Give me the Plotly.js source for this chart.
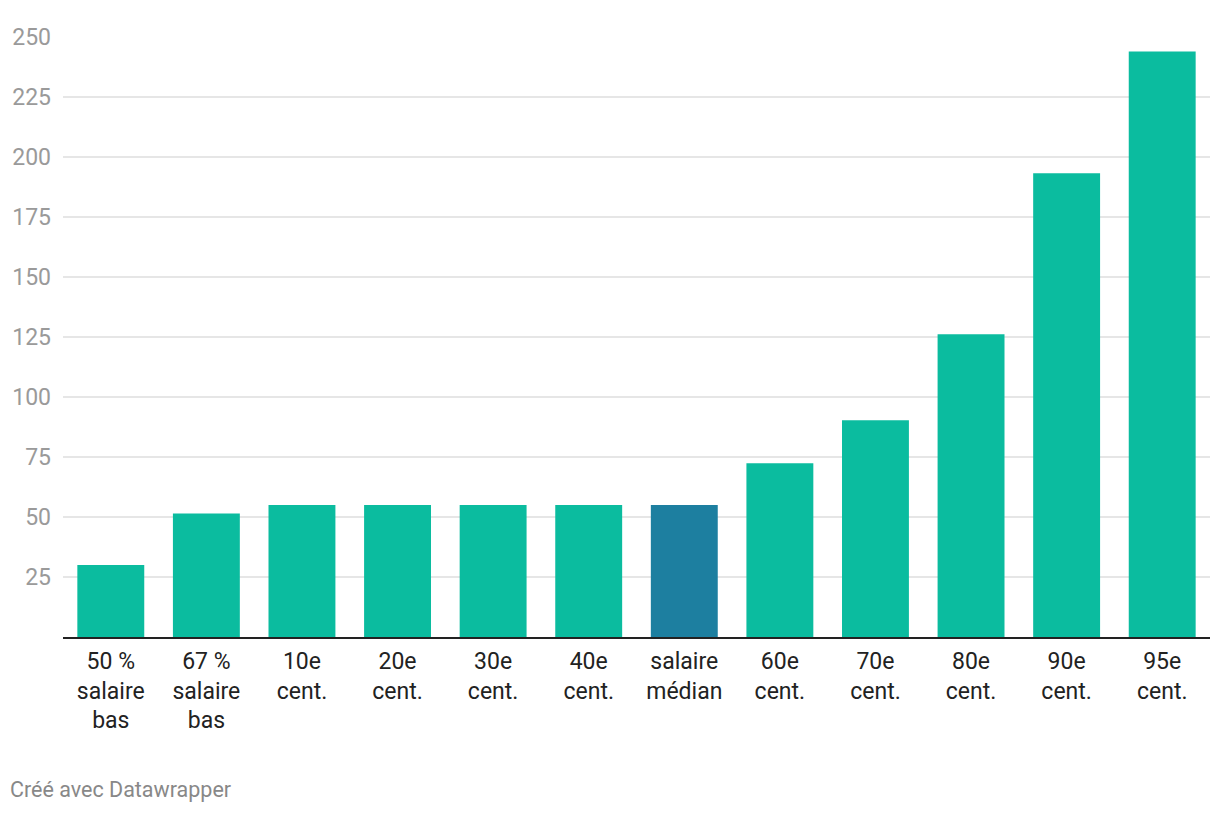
<!DOCTYPE html>
<html>
<head>
<meta charset="utf-8">
<script src="https://cdn.plot.ly/plotly-3.0.1.min.js"></script>
<style>
  html, body { margin: 0; padding: 0; background: #fff; }
  #chart { width: 1220px; height: 814px; }
</style>
</head>
<body>
<div id="chart"></div>
<script>
const categories = [
  "50 %<br>salaire<br>bas",
  "67 %<br>salaire<br>bas",
  "10e<br>cent.",
  "20e<br>cent.",
  "30e<br>cent.",
  "40e<br>cent.",
  "salaire<br>médian",
  "60e<br>cent.",
  "70e<br>cent.",
  "80e<br>cent.",
  "90e<br>cent.",
  "95e<br>cent."
];
const values = [30, 51.5, 55, 55, 55, 55, 55, 72.4, 90.3, 126.1, 193.2, 244];
const yTicks = [25, 50, 75, 100, 125, 150, 175, 200, 225, 250];
const highlightCategory = "salaire<br>médian";
const footerText = "Créé avec Datawrapper";

const baseColor = "#0bbc9f";
const highlightColor = "#1d7fa0";
const colors = categories.map(c => c === highlightCategory ? highlightColor : baseColor);

const trace = {
  type: "bar",
  x: categories,
  y: values,
  marker: { color: colors, line: { width: 0 } },
  hoverinfo: "x+y"
};

const layout = {
  width: 1220,
  height: 814,
  margin: { l: 63, r: 10, t: 36.7, b: 177.3 },
  paper_bgcolor: "#ffffff",
  plot_bgcolor: "#ffffff",
  bargap: 0.3,
  showlegend: false,
  font: { family: "Roboto, sans-serif" },
  xaxis: {
    type: "category",
    showline: true,
    linecolor: "#222222",
    linewidth: 2,
    ticks: "",
    showgrid: false,
    tickfont: { size: 23, color: "#222222", family: "Roboto, sans-serif" },
    ticklabelstandoff: 2
  },
  yaxis: {
    range: [0, 250],
    tickvals: yTicks,
    ticktext: yTicks.map(String),
    showgrid: true,
    gridcolor: "#e6e6e6",
    gridwidth: 1.5,
    zeroline: false,
    showline: false,
    ticks: "",
    tickfont: { size: 23, color: "#9a9a9a", family: "Roboto, sans-serif" },
    ticklabelstandoff: 11
  },
  annotations: [{
    text: footerText,
    xref: "paper", yref: "paper",
    x: -55 / 1147, y: (636.7 - 789) / 600,
    xanchor: "left", yanchor: "middle",
    showarrow: false,
    font: { size: 21.5, color: "#888888", family: "Roboto, sans-serif" }
  }]
};

Plotly.newPlot("chart", [trace], layout, { displayModeBar: false, staticPlot: true });
</script>
</body>
</html>
